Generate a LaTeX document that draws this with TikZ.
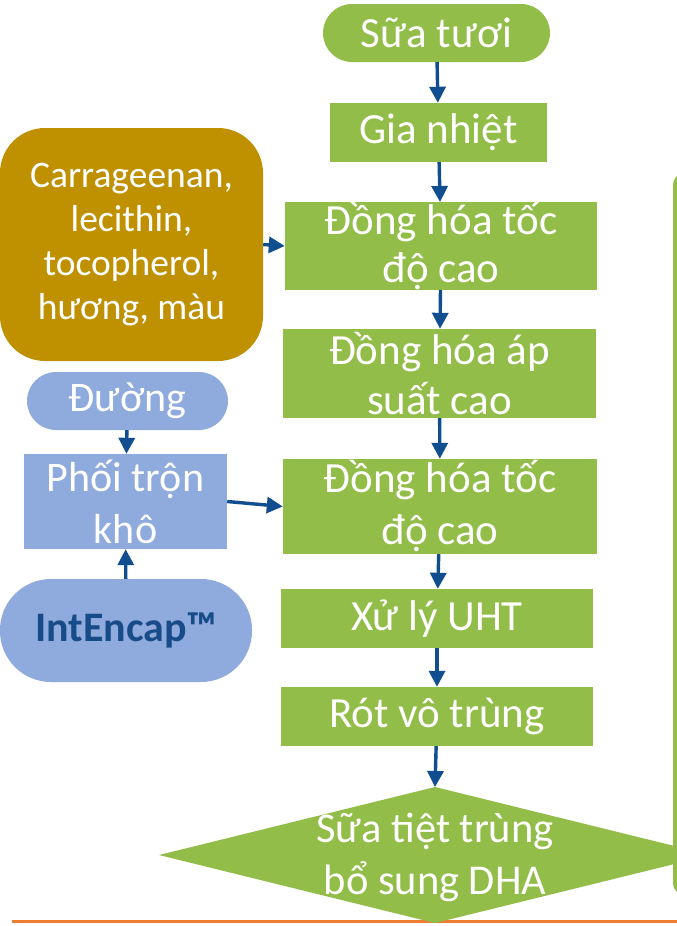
\documentclass[tikz,border=0pt]{standalone}
\usepackage{fontspec}
\setmainfont{Carlito}
\usetikzlibrary{arrows.meta}

\definecolor{leafgreen}{RGB}{146,189,72}
\definecolor{ochre}{RGB}{191,144,0}
\definecolor{paleblue}{RGB}{143,170,220}
\definecolor{arrowblue}{RGB}{16,78,143}
\definecolor{inkblue}{RGB}{24,76,136}
\definecolor{rule}{RGB}{237,125,49}

\tikzset{
  stage/.style={fill=leafgreen, text=white, inner sep=0pt, align=center,
                font=\fontsize{43}{48}\selectfont},
  addbox/.style={fill=paleblue, text=white, inner sep=0pt, align=center,
                 font=\fontsize{42}{52}\selectfont},
  flow/.style={draw=arrowblue, line width=3.4pt,
               -{Triangle[length=16pt,width=16pt]}},
}

\begin{document}
\begin{tikzpicture}[x=1pt,y=-1pt]
  \clip (0,0) rectangle (677,926);
  \fill[white] (0,0) rectangle (677,926);

  % bottom rule and the frame on the right edge
  \draw[rule, line width=3pt] (12,921) -- (677,921);
  \draw[leafgreen, line width=4pt, rounded corners=10pt] (675,175) rectangle (780,893);

  % main process line
  \node[stage, rounded corners=29pt, minimum width=227pt, minimum height=58pt]
       (sua) at (436.5,33) {Sữa tươi};
  \node[stage, minimum width=217pt, minimum height=59pt]
       (gia) at (438.5,132.5) {Gia nhiệt};
  \node[stage, minimum width=312pt, minimum height=86pt]
       (dh1) at (441,246) {Đồng hóa tốc\\độ cao};
  \node[stage, font=\fontsize{43}{50}\selectfont, minimum width=313pt, minimum height=89pt]
       (dh2) at (439.5,373.5) {Đồng hóa áp\\suất cao};
  \node[stage, font=\fontsize{43}{52}\selectfont, minimum width=314pt, minimum height=95pt]
       (dh3) at (440,506.5) {Đồng hóa tốc\\độ cao};
  \node[stage, minimum width=312pt, minimum height=59pt]
       (uht) at (437,618.5) {Xử lý UHT};
  \node[stage, minimum width=312pt, minimum height=59pt]
       (rot) at (437,716.5) {Rót vô trùng};

  % final product
  \fill[leafgreen] (435,787) -- (711,855) -- (435,923) -- (159,855) -- cycle;
  \coordinate (dhatop) at (435,787);
  \node[text=white, align=center, inner sep=0pt, font=\fontsize{42.5}{52}\selectfont]
       (dha) at (435,857) {Sữa tiệt trùng\\bổ sung DHA};

  % ingredient inputs
  \node[fill=ochre, text=white, rounded corners=45pt, inner sep=0pt, align=center,
        minimum width=263pt, minimum height=233pt, font=\fontsize{37.5}{44}\selectfont]
       (carr) at (131.5,244.5) {Carrageenan,\\lecithin,\\tocopherol,\\hương, màu};
  \node[addbox, rounded corners=29pt, minimum width=201pt, minimum height=58pt]
       (duong) at (127.5,401) {Đường};
  \node[addbox, minimum width=203pt, minimum height=95pt]
       (phoi) at (125.5,501.5) {Phối trộn\\khô};
  \node[fill=paleblue, text=inkblue, rounded corners=51pt, inner sep=0pt,
        minimum width=252pt, minimum height=103pt,
        font=\fontsize{42}{46}\selectfont\bfseries]
       (intencap) at (126,630.5) {IntEncap™};

  % connectors
  \draw[flow] (sua) -- (gia);
  \draw[flow] (gia) -- (dh1);
  \draw[flow] (dh1) -- (dh2);
  \draw[flow] (dh2) -- (dh3);
  \draw[flow] (dh3) -- (uht);
  \draw[flow] (uht) -- (rot);
  \draw[flow] (rot) -- (dhatop);
  \draw[flow] (carr.east) -- (dh1.west);
  \draw[flow] (duong) -- (phoi);
  \draw[flow] (intencap) -- (phoi);
  \draw[flow] (phoi.east) -- (dh3.west);
\end{tikzpicture}
\end{document}
